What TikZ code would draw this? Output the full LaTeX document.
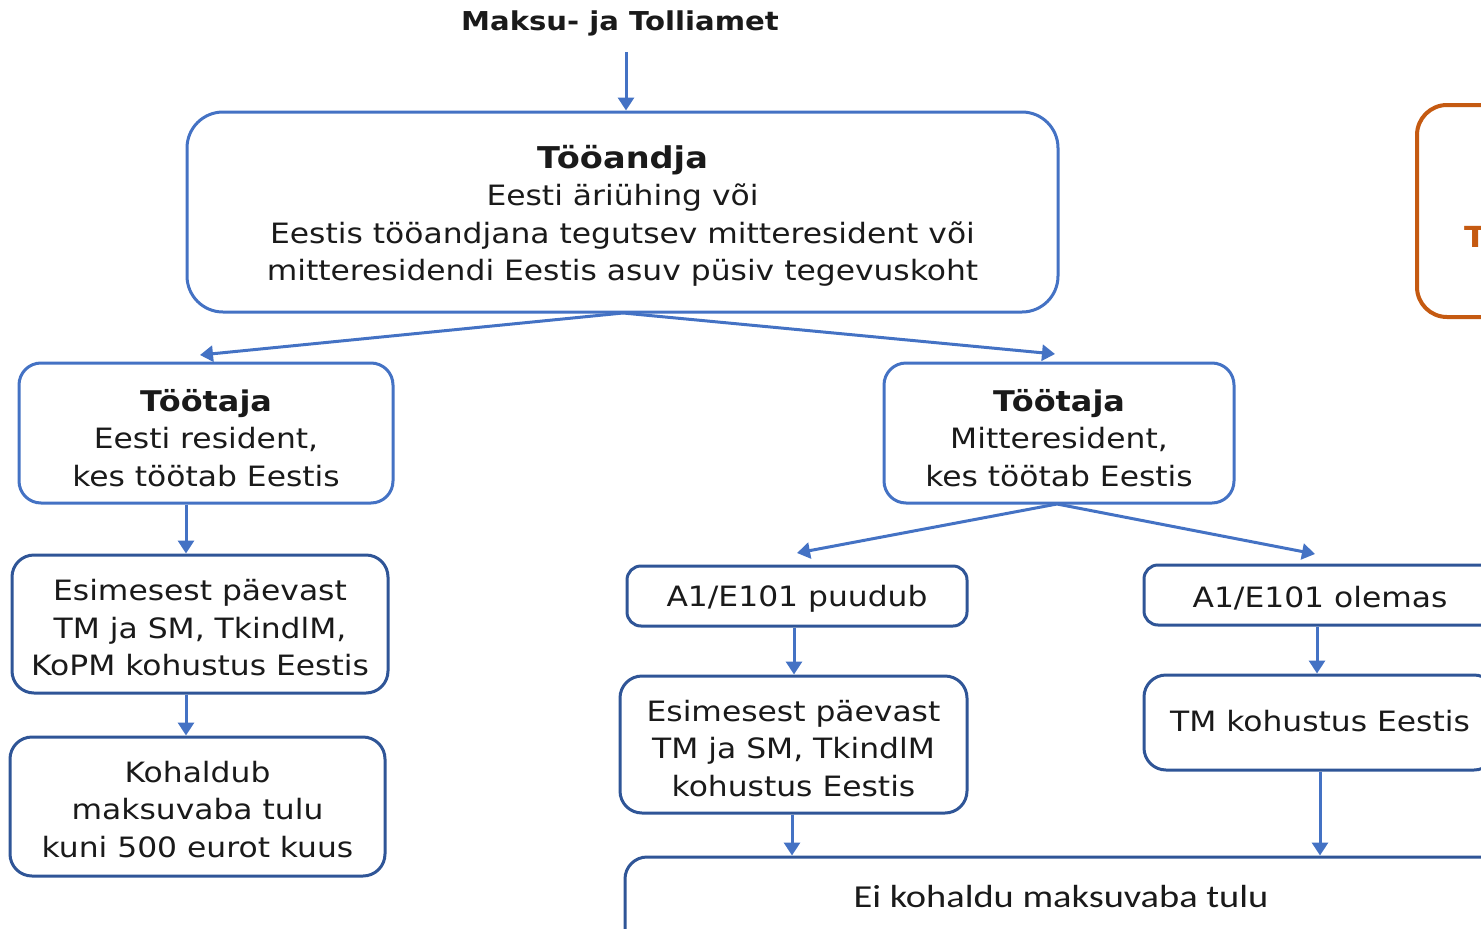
\documentclass[tikz,border=0pt]{standalone}
\usepackage{fontspec}
\setmainfont{DejaVu Sans}[FakeStretch=1.12]
\newfontfamily\calib{Carlito}[FakeStretch=1.2]
\usetikzlibrary{arrows.meta}
\definecolor{lblue}{HTML}{4472C4}
\definecolor{dblue}{HTML}{2F5597}
\definecolor{orng}{HTML}{C55A11}
\definecolor{txt}{HTML}{1A1A1A}
\tikzset{
  box/.style={draw=lblue, line width=3pt, rounded corners=22pt, inner sep=0pt},
  dbox/.style={box, draw=dblue},
  lbl/.style={align=center, text=txt, inner sep=0pt, font=\fontsize{28}{37.5}\selectfont},
  arr/.style={draw=lblue, line width=3pt, -{Triangle[width=16pt,length=13pt]}},
}
\begin{document}
\begin{tikzpicture}[x=1pt,y=-1pt]
\useasboundingbox (0,0) rectangle (1481,929);
\fill[white] (0,0) rectangle (1481,929);
\clip (0,0) rectangle (1481,929);

\node[font=\bfseries\fontsize{26}{30}\selectfont, text=txt] (mta) at (620,23) {Maksu- ja Tolliamet};

% boxes
\node[box, rounded corners=36pt, minimum width=871pt, minimum height=200pt] (too) at (622.5,212) {};
\node[box, minimum width=374pt, minimum height=140pt] (tl) at (206,433) {};
\node[box, minimum width=350pt, minimum height=140pt] (tr) at (1059,433) {};
\node[dbox, minimum width=376pt, minimum height=138pt] (l1) at (200,624) {};
\node[dbox, minimum width=375pt, minimum height=139pt] (l2) at (197.5,806.5) {};
\node[dbox, rounded corners=14pt, minimum width=340pt, minimum height=60pt] (a1) at (797,596) {};
\node[dbox, rounded corners=14pt, minimum width=352pt, minimum height=60pt] (a2) at (1320,595) {};
\node[dbox, minimum width=347pt, minimum height=137pt] (r1) at (793.5,744.5) {};
\node[dbox, minimum width=352pt, minimum height=95pt] (r2) at (1320,722.5) {};
\node[dbox, minimum width=880pt, minimum height=100pt] (ei) at (1065,907) {};
\node[draw=orng, line width=4pt, rounded corners=30pt, minimum width=200pt, minimum height=212pt] (or) at (1517,211) {};

% texts
\node[lbl] (toot) at ([yshift=-4pt]too.center)
  {{\bfseries\fontsize{30}{37.5}\selectfont Tööandja}\\Eesti äriühing või\\Eestis tööandjana tegutsev mitteresident või\\mitteresidendi Eestis asuv püsiv tegevuskoht};
\node[lbl] (tlt) at ([yshift=-5pt]tl.center)
  {{\bfseries\fontsize{28.5}{37.5}\selectfont Töötaja}\\Eesti resident,\\kes töötab Eestis};
\node[lbl] (trt) at ([yshift=-5pt]tr.center)
  {{\bfseries\fontsize{28.5}{37.5}\selectfont Töötaja}\\Mitteresident,\\kes töötab Eestis};
\node[lbl] (l1t) at ([yshift=-4pt]l1.center) {Esimesest päevast\\TM ja SM, TkindlM,\\KoPM kohustus Eestis};
\node[lbl] (l2t) at ([yshift=-3pt]l2.center) {Kohaldub\\maksuvaba tulu\\kuni 500 eurot kuus};
\node[lbl] (a1t) at ([yshift=-3pt]a1.center) {A1/E101 puudub};
\node[lbl] (a2t) at ([yshift=-3pt]a2.center) {A1/E101 olemas};
\node[lbl] (r1t) at ([yshift=-4pt]r1.center) {Esimesest päevast\\TM ja SM, TkindlM\\kohustus Eestis};
\node[lbl] (r2t) at ([yshift=1pt]r2.center) {TM kohustus Eestis};
\node[font=\calib\fontsize{32}{37}\selectfont, text=txt] (eit) at (1061,896) {Ei kohaldu maksuvaba tulu};
\node[anchor=west, text=orng, font=\bfseries\fontsize{29}{35}\selectfont, inner sep=0pt] (ort) at (1464,237) {T};

% connectors
\coordinate (mtab) at (626,52);
\draw[arr] (mtab) -- (too.north -| mtab);
\coordinate (tb) at (623,313);
\draw[arr] (tb) -- (200,355);
\draw[arr] (tb) -- (1055,354);
\draw[arr] (tl.south -| 186,0) -- (l1.north -| 186,0);
\draw[arr] (l1.south -| 186,0) -- (l2.north -| 186,0);
\coordinate (trb) at (1057,504);
\draw[arr] (trb) -- (797,553);
\draw[arr] (trb) -- (1315,554);
\draw[arr] (a1.south -| 794,0) -- (r1.north -| 794,0);
\draw[arr] (a2.south -| 1317,0) -- (r2.north -| 1317,0);
\draw[arr] (r1.south -| 792,0) -- (ei.north -| 792,0);
\draw[arr] (r2.south -| 1320,0) -- (ei.north -| 1320,0);
\end{tikzpicture}
\end{document}
